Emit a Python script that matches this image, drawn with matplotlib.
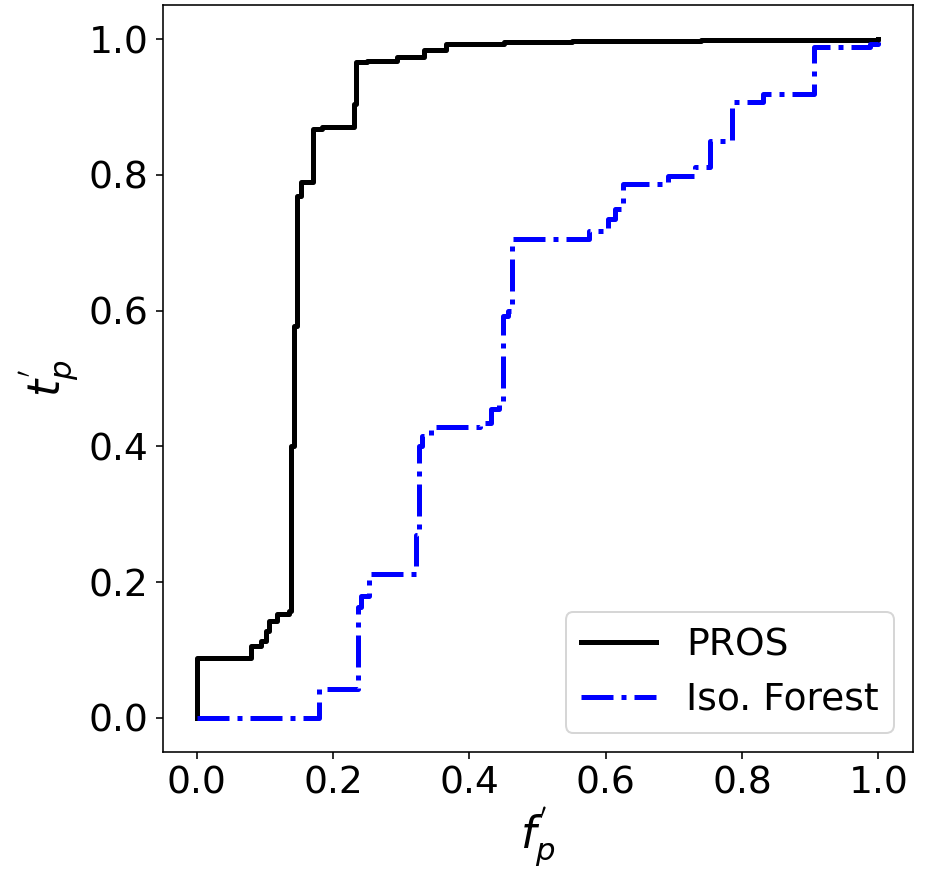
import matplotlib
matplotlib.use("Agg")
from matplotlib import pyplot as plt

# ROC step points (false positive rate, true positive rate)
pros_fpr = [0.0, 0.0, 0.079, 0.094, 0.101, 0.106, 0.118, 0.135, 0.138, 0.143,
            0.147, 0.153, 0.171, 0.184, 0.231, 0.234, 0.25, 0.294, 0.334,
            0.366, 0.45, 0.55, 0.74, 1.0]
pros_tpr = [0.0, 0.088, 0.106, 0.113, 0.128, 0.143, 0.153, 0.158, 0.40, 0.577,
            0.769, 0.789, 0.867, 0.871, 0.904, 0.966, 0.968, 0.973, 0.984,
            0.993, 0.996, 0.998, 0.999, 1.0]

iso_fpr = [0.0, 0.179, 0.237, 0.241, 0.253, 0.322, 0.326, 0.331, 0.343, 0.415,
           0.432, 0.444, 0.449, 0.456, 0.463, 0.576, 0.603, 0.613, 0.625,
           0.691, 0.731, 0.753, 0.785, 0.831, 0.905, 0.988, 1.0]
iso_tpr = [0.0, 0.043, 0.163, 0.18, 0.212, 0.27, 0.40, 0.415, 0.428, 0.435,
           0.455, 0.465, 0.592, 0.60, 0.705, 0.717, 0.735, 0.75, 0.786,
           0.798, 0.811, 0.85, 0.907, 0.919, 0.988, 0.993, 1.0]

labels = ["PROS", "Iso. Forest"]


def main():
    plt.rcParams["font.size"] = 18.8
    fig = plt.figure(figsize=(935 / 144, 872 / 144), dpi=144)
    ax = fig.add_axes([0.174, 0.138, 0.802, 0.856])

    ax.plot(pros_fpr, pros_tpr, drawstyle="steps-post", color="black",
            lw=2.5, label=labels[0])
    ax.plot(iso_fpr, iso_tpr, drawstyle="steps-post", color="blue",
            lw=2.5, ls="-.", label=labels[1])

    ax.set_xlim(-0.05, 1.05)
    ax.set_ylim(-0.05, 1.05)
    ax.set_xticks([0.0, 0.2, 0.4, 0.6, 0.8, 1.0])
    ax.set_yticks([0.0, 0.2, 0.4, 0.6, 0.8, 1.0])
    ax.set_xlabel(r"$f^{'}_p$", fontsize=22, labelpad=2)
    ax.set_ylabel(r"$t^{'}_p$", fontsize=22)
    ax.legend(loc="lower right")

    fig.savefig("out.png", dpi=144)


if __name__ == "__main__":
    main()
